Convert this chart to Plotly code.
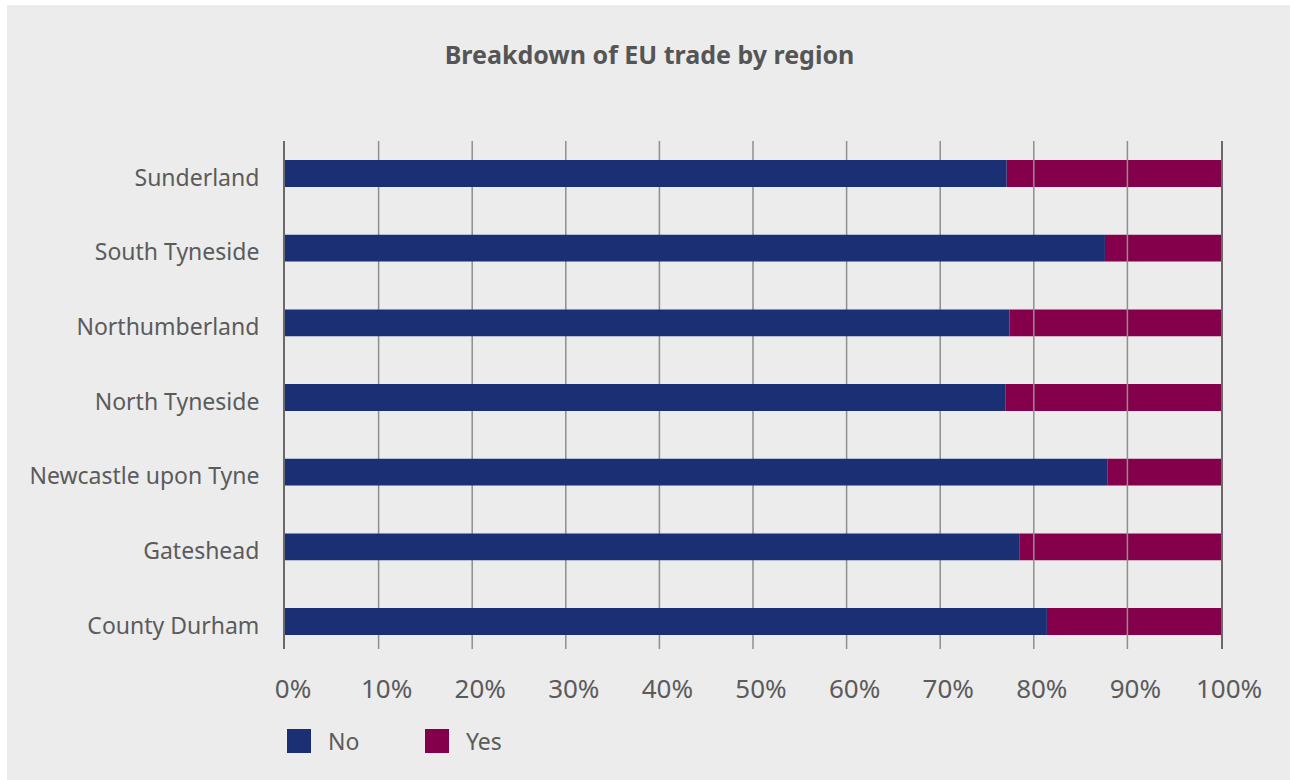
import plotly.graph_objects as go

# Regions, listed bottom-to-top as they appear on the category axis
regions = ["County Durham", "Gateshead", "Newcastle upon Tyne", "North Tyneside",
           "Northumberland", "South Tyneside", "Sunderland"]
# Share of businesses (%) answering No / Yes
no_share = [81.4, 78.5, 87.9, 77.0, 77.4, 87.6, 77.1]
yes_share = [18.6, 21.5, 12.1, 23.0, 22.6, 12.4, 22.9]

series_names = ["No", "Yes"]
series_colors = ["#1a2f74", "#85004b"]

x_ticks = list(range(0, 101, 10))
x_tick_labels = [f"{t}%" for t in x_ticks]
title_text = "Breakdown of EU trade by region"

# Page geometry
W, H = 1290, 780
ML, MR, MT, MB = 285, 69, 141, 131
PW = W - ML - MR
PH = H - MT - MB
Y_RANGE = [-0.368, 6.435]
BAR_W = 0.36
FONT = "Noto Sans"
TEXT_COL = "#5b5b5b"
BG = "#ececec"
GRID_COL = "#8f8f8f"


def paper_x(px):
    return (px - ML) / PW


def paper_y(py):
    return (H - MB - py) / PH


idx = list(range(len(regions)))

fig = go.Figure()

# Yes segment, starting where the No segment ends
fig.add_trace(go.Bar(
    y=idx, x=yes_share, base=no_share, orientation="h", width=BAR_W,
    name=series_names[1], marker=dict(color=series_colors[1], line_width=0),
    showlegend=False, xaxis="x", yaxis="y",
    hovertemplate="%{customdata}: %{x:.1f}%<extra>Yes</extra>",
    customdata=regions,
))

# Vertical gridlines, laid over the Yes segments
gx, gy = [], []
for t in x_ticks[1:-1]:
    gx += [t, t, None]
    gy += [Y_RANGE[0], Y_RANGE[1], None]
fig.add_trace(go.Scatter(
    x=gx, y=gy, mode="lines", line=dict(color=GRID_COL, width=1.5),
    hoverinfo="skip", showlegend=False, xaxis="x", yaxis="y",
))

# No segment on overlaid axes so it sits above the gridlines
fig.add_trace(go.Bar(
    y=idx, x=no_share, orientation="h", width=BAR_W,
    name=series_names[0], marker=dict(color=series_colors[0], line_width=0),
    showlegend=False, xaxis="x2", yaxis="y2",
    hovertemplate="%{customdata}: %{x:.1f}%<extra>No</extra>",
    customdata=regions,
))

# Hand-built legend with large square swatches
legend_items = [(series_names[0], series_colors[0], 287), (series_names[1], series_colors[1], 425)]
shapes = [
    # grey card behind the chart, leaving a thin white edge top/left
    dict(type="rect", xref="paper", yref="paper",
         x0=paper_x(7), x1=paper_x(W), y0=paper_y(H), y1=paper_y(5),
         fillcolor=BG, line_width=0, layer="below"),
]
annotations = []
for name, col, left in legend_items:
    shapes.append(dict(type="rect", xref="paper", yref="paper",
                       x0=paper_x(left), x1=paper_x(left + 24),
                       y0=paper_y(753), y1=paper_y(729),
                       fillcolor=col, line_width=0, layer="above"))
    annotations.append(dict(text=name, xref="paper", yref="paper",
                            x=paper_x(left + 39), y=paper_y(741),
                            xanchor="left", yanchor="middle", showarrow=False,
                            font=dict(family=FONT, size=23, color=TEXT_COL)))

fig.update_layout(
    width=W, height=H,
    margin=dict(l=ML, r=MR, t=MT, b=MB, pad=0),
    paper_bgcolor="white",
    plot_bgcolor="rgba(0,0,0,0)",
    barmode="overlay",
    title=dict(text=title_text, x=649.5 / W, xref="container", xanchor="center",
               y=1 - 55 / H, yref="container", yanchor="middle",
               font=dict(family=FONT, size=25, color="#555555", weight=700)),
    xaxis=dict(range=[0, 100], tickvals=x_ticks, ticktext=x_tick_labels,
               showgrid=False, zeroline=False, showline=False, ticks="",
               ticklabelstandoff=22, ticklabelshift=8,
               tickfont=dict(family=FONT, size=26, color=TEXT_COL), fixedrange=True),
    yaxis=dict(range=Y_RANGE, tickvals=idx, ticktext=regions,
               showgrid=False, zeroline=False, showline=True, mirror=True,
               linecolor="#6a6a6a", linewidth=2, ticks="",
               ticklabelstandoff=19, ticklabelshift=4,
               tickfont=dict(family=FONT, size=23, color=TEXT_COL), fixedrange=True),
    xaxis2=dict(range=[0, 100], overlaying="x", visible=False, fixedrange=True),
    yaxis2=dict(range=Y_RANGE, overlaying="y", visible=False, fixedrange=True),
    shapes=shapes,
    annotations=annotations,
    showlegend=False,
)

fig.write_html("out.html")
